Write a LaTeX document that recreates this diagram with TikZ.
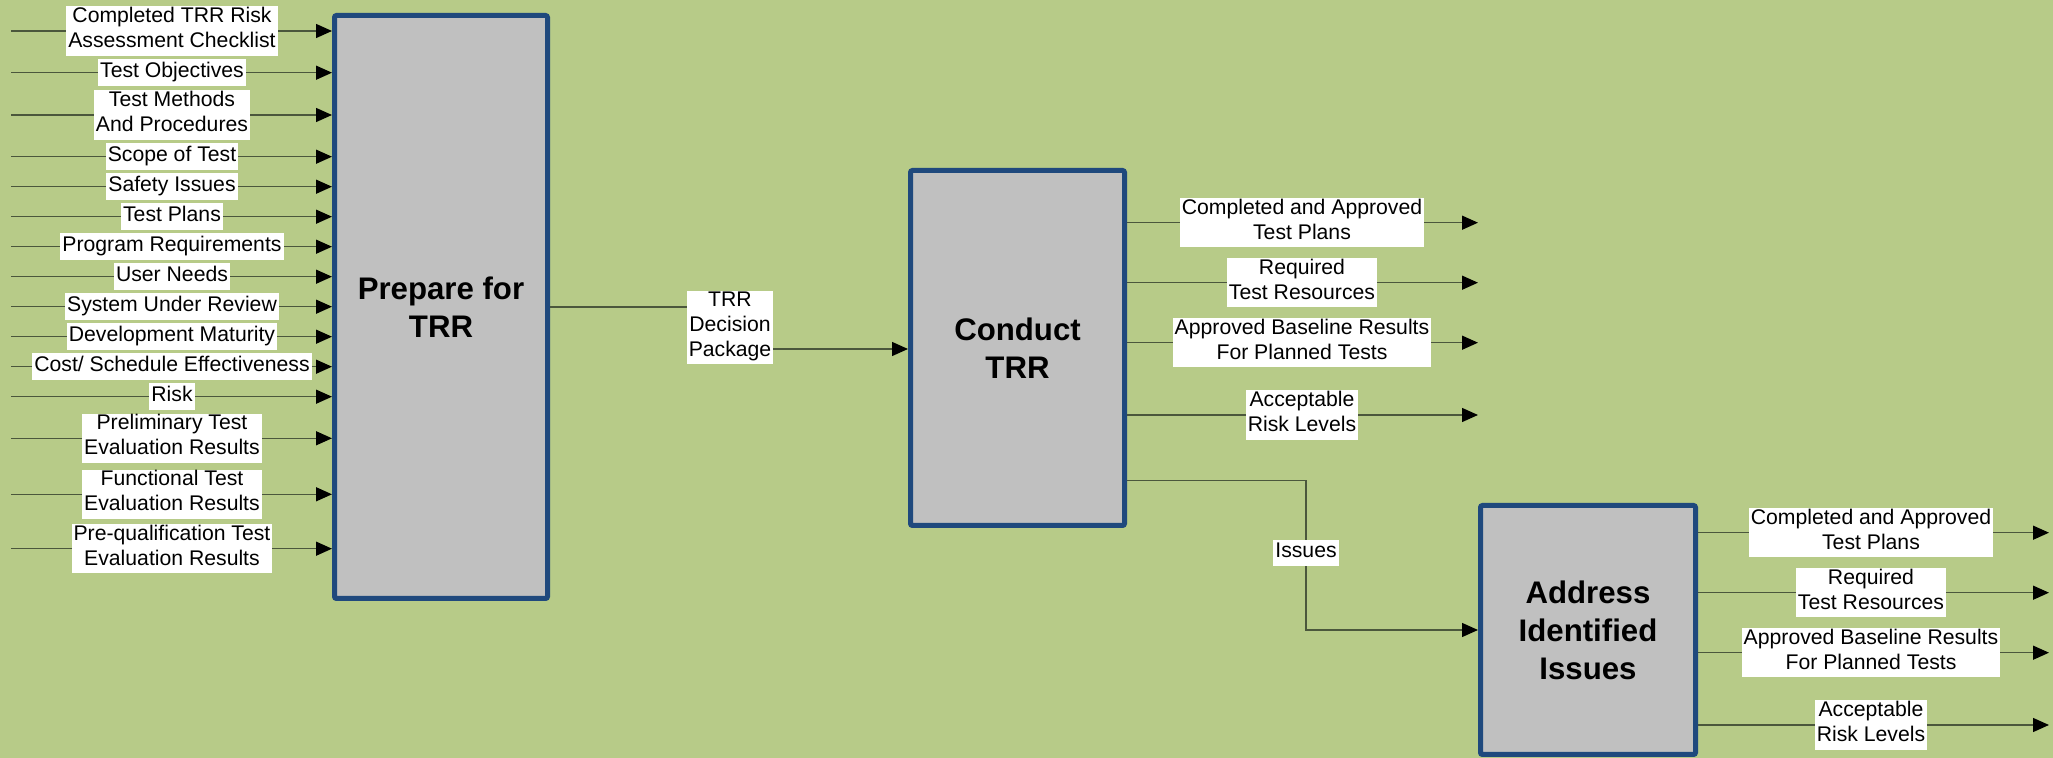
\documentclass[tikz,border=0pt]{standalone}
\usepackage{fontspec}
\setmainfont{Liberation Sans}
\usetikzlibrary{arrows.meta}
\definecolor{bgc}{HTML}{B7CB88}
\definecolor{boxgray}{HTML}{C0C0C0}
\definecolor{boxblue}{HTML}{1F497D}
\definecolor{linec}{HTML}{4B573C}
\begin{document}
\begin{tikzpicture}[x=0.5pt,y=-0.5pt,
  procbox/.style={draw=boxblue, line width=2.5pt, fill=boxgray, rounded corners=1pt,
    font=\bfseries\fontsize{15.6}{19}\selectfont, align=center, inner sep=0pt},
  lbl/.style={fill=white, inner xsep=1pt, inner ysep=0.4pt, align=center,
    font=\fontsize{10.6}{12.5}\selectfont,
    execute at begin node=\strut, execute at end node=\strut},
  flow/.style={draw=linec, line width=0.7pt,
    -{Triangle[length=8pt,width=7pt,color=black]}}]
\useasboundingbox (0,0) rectangle (2053,758);
\fill[bgc] (0,0) rectangle (2053,758);

% boxes
\node[procbox, minimum width=106.5pt, minimum height=291.5pt] (P) at (441,307) {Prepare for\\TRR};
\node[procbox, minimum width=107pt, minimum height=177.5pt] (C) at (1017.5,348) {Conduct\\TRR};
\node[procbox, minimum width=107.5pt, minimum height=124.5pt] (A) at (1588,630) {Address\\Identified\\Issues};

% inputs
\foreach [count=\i] \y/\t in {
  31/{Completed TRR Risk\\Assessment Checklist},
  72.7/{Test Objectives},
  115/{Test Methods\\And Procedures},
  156.7/{Scope of Test},
  186.7/{Safety Issues},
  216.7/{Test Plans},
  246.7/{Program Requirements},
  276.7/{User Needs},
  306.7/{System Under Review},
  336.7/{Development Maturity},
  366.7/{Cost/ Schedule Effectiveness},
  396.7/{Risk},
  438.3/{Preliminary Test\\Evaluation Results},
  494.3/{Functional Test\\Evaluation Results},
  548.7/{Pre-qualification Test\\Evaluation Results}} {
  \coordinate (s\i) at (11,\y);
  \draw[flow] (s\i) -- (s\i -| P.west);
  \node[lbl] (l\i) at (172,\y) {\t};
}

% decision package
\coordinate (d1) at (730,349);
\draw[flow] (P.east) -| (d1) -- (d1 -| C.west);
\node[lbl] (dp) at (730,327.5) {TRR\\Decision\\Package};

% outputs of Conduct
\foreach [count=\i] \y/\t in {
  222.7/{Completed and Approved\\Test Plans},
  282.7/{Required\\Test Resources},
  342.7/{Approved Baseline Results\\For Planned Tests},
  415/{Acceptable\\Risk Levels}} {
  \coordinate (o\i) at (1478,\y);
  \draw[flow] (o\i -| C.east) -- (o\i);
  \node[lbl] (ol\i) at (1302,\y) {\t};
}

% issues
\coordinate (iss) at (1306,480.5);
\draw[flow] (C.east |- iss) -- (iss) |- (A.west);
\node[lbl] (il) at (1306,553) {Issues};

% outputs of Address
\foreach [count=\i] \y/\t in {
  532.7/{Completed and Approved\\Test Plans},
  592.7/{Required\\Test Resources},
  652.7/{Approved Baseline Results\\For Planned Tests},
  725/{Acceptable\\Risk Levels}} {
  \coordinate (a\i) at (2049,\y);
  \draw[flow] (a\i -| A.east) -- (a\i);
  \node[lbl] (al\i) at (1871,\y) {\t};
}
\end{tikzpicture}
\end{document}
